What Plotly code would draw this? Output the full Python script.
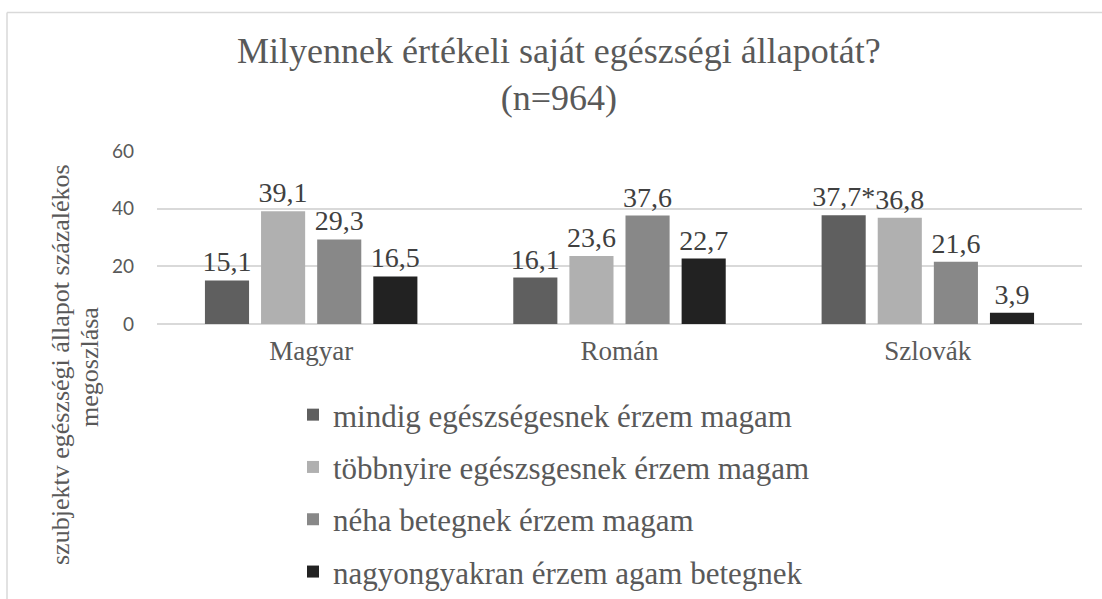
import plotly.graph_objects as go

categories = ["Magyar", "Román", "Szlovák"]
series_names = [
    "mindig egészségesnek érzem magam",
    "többnyire egészsgesnek érzem magam",
    "néha betegnek érzem magam",
    "nagyongyakran érzem agam betegnek",
]
values = [
    [15.1, 16.1, 37.7],
    [39.1, 23.6, 36.8],
    [29.3, 37.6, 21.6],
    [16.5, 22.7, 3.9],
]
labels = [
    ["15,1", "16,1", "37,7*"],
    ["39,1", "23,6", "36,8"],
    ["29,3", "37,6", "21,6"],
    ["16,5", "22,7", "3,9"],
]
colors = ["#5f5f5f", "#b0b0b0", "#888888", "#222222"]
title_text = "Milyennek értékeli saját egészségi állapotát?<br>(n=964)"
ytitle_lines = ["szubjektv egészségi állapot százalékos", "megoszlása"]

serif = "Liberation Serif"
txt = "#595959"

fig = go.Figure()
for i, name in enumerate(series_names):
    fig.add_trace(go.Bar(
        x=categories, y=values[i], name=name,
        marker=dict(color=colors[i], line=dict(width=0)),
        text=labels[i], textposition="outside", cliponaxis=False,
        constraintext="none",
        textfont=dict(family=serif, size=28, color="#404040"),
        legendgroup=str(i),
    ))

W, H = 1102, 599
L, R, T, B = 157, 20, 150, 275
pw, ph = W - L - R, H - T - B

def px2x(px):
    return (px - L) / pw

def py2y(py):
    return (H - B - py) / ph

fig.update_layout(
    width=W, height=H,
    margin=dict(l=L, r=R, t=T, b=B, autoexpand=False),
    paper_bgcolor="white", plot_bgcolor="white",
    barmode="group", bargap=0.272, bargroupgap=0.214,
    xaxis=dict(
        tickfont=dict(family=serif, size=27, color=txt),
        showline=False, ticks="", showgrid=False, ticklabelstandoff=8,
    ),
    yaxis=dict(
        range=[0, 60.3], tickvals=[0, 20, 40, 60],
        tickfont=dict(family="Lato", size=19, color=txt),
        showgrid=True, gridcolor="#d9d9d9", gridwidth=1.5,
        zeroline=True, zerolinecolor="#d9d9d9", zerolinewidth=1.5,
        showline=False, ticks="", ticklabelstandoff=22,
    ),
    legend=dict(
        x=px2x(293), xanchor="left", xref="paper",
        y=py2y(388), yanchor="top", yref="paper",
        font=dict(family=serif, size=31, color=txt),
        tracegroupgap=9, traceorder="grouped",
    ),
    showlegend=True,
    annotations=[
        dict(
            text=title_text,
            x=px2x(559), y=py2y(75), xref="paper", yref="paper",
            xanchor="center", yanchor="middle", showarrow=False,
            font=dict(family=serif, size=36, color=txt),
        ),
        dict(
            text=ytitle_lines[0],
            x=px2x(60), y=py2y(365), xref="paper", yref="paper",
            xanchor="center", yanchor="middle", textangle=-90, showarrow=False,
            font=dict(family=serif, size=26, color=txt),
        ),
        dict(
            text=ytitle_lines[1],
            x=px2x(89), y=py2y(367), xref="paper", yref="paper",
            xanchor="center", yanchor="middle", textangle=-90, showarrow=False,
            font=dict(family=serif, size=26, color=txt),
        ),
    ],
    shapes=[
        dict(type="line", xref="paper", yref="paper",
             x0=px2x(7), x1=px2x(W + 5), y0=py2y(12.5), y1=py2y(12.5),
             line=dict(color="#d9d9d9", width=1.5)),
        dict(type="line", xref="paper", yref="paper",
             x0=px2x(7), x1=px2x(7), y0=py2y(12.5), y1=py2y(H + 5),
             line=dict(color="#d9d9d9", width=1.5)),
    ],
)

fig.write_html(
    "out.html",
    config={"displayModeBar": False},
    post_script="document.body.style.margin='0';document.body.style.overflow='hidden';",
)
